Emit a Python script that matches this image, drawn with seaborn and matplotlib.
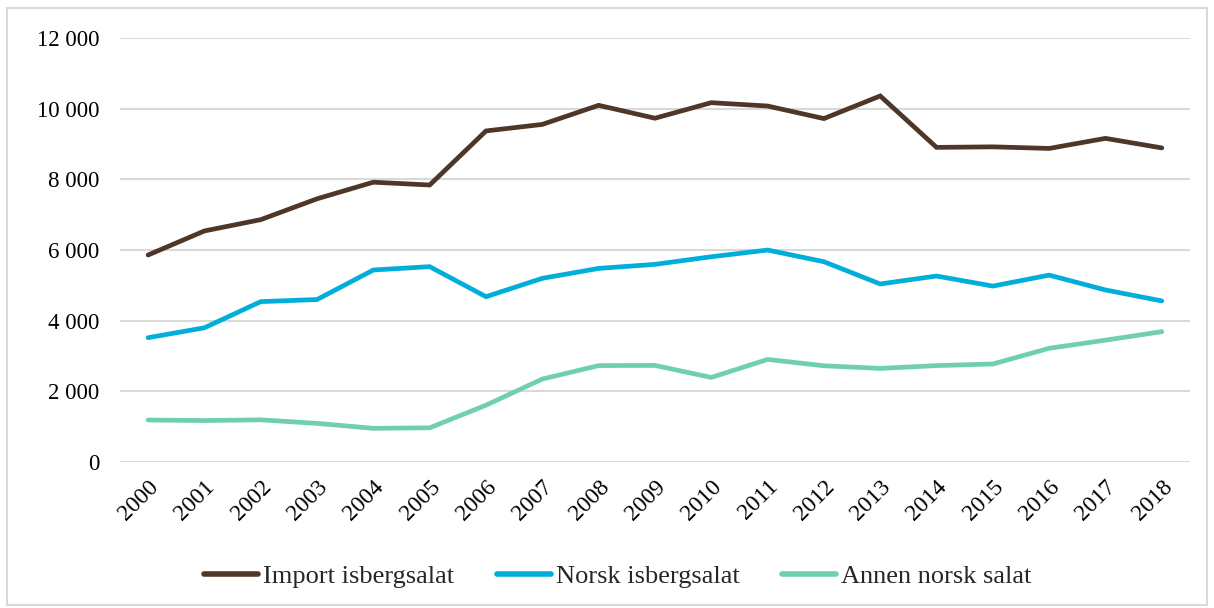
import numpy as np
import pandas as pd
import seaborn as sns
import matplotlib.pyplot as plt
from matplotlib.patches import Rectangle
from matplotlib.ticker import FuncFormatter

sns.set_style("white")
plt.rcParams["font.family"] = ["Liberation Serif", "DejaVu Serif"]

# Data
years = [str(y) for y in range(2000, 2019)]
import_isberg = [5860, 6540, 6860, 7450, 7920, 7840, 9370, 9555, 10095, 9730,
                 10170, 10075, 9720, 10360, 8905, 8920, 8875, 9160, 8890]
norsk_isberg = [3520, 3800, 4540, 4600, 5435, 5530, 4680, 5200, 5480, 5595,
                5810, 6000, 5670, 5040, 5265, 4980, 5290, 4870, 4560]
annen_norsk = [1190, 1175, 1195, 1095, 955, 970, 1610, 2350, 2730, 2735,
               2395, 2905, 2725, 2650, 2730, 2775, 3220, 3450, 3690]

series_names = ["Import isbergsalat", "Norsk isbergsalat", "Annen norsk salat"]
colors = ["#4E3629", "#00AFD9", "#70CFB1"]

df = pd.DataFrame({
    "År": years * 3,
    "Verdi": import_isberg + norsk_isberg + annen_norsk,
    "Serie": [series_names[0]] * 19 + [series_names[1]] * 19 + [series_names[2]] * 19,
})

fig = plt.figure(figsize=(12.14, 6.08), dpi=100)
ax = fig.add_axes([0.0988, 0.240, 0.8814, 0.6975])

sns.lineplot(data=df, x="År", y="Verdi", hue="Serie", palette=colors,
             linewidth=3.4, sort=False, ax=ax, legend=True)
for line in ax.get_lines():
    line.set_solid_capstyle("round")
    line.set_solid_joinstyle("miter")

ax.set_xlim(-0.5, len(years) - 0.5)
ax.set_ylim(0, 12000)
ax.set_yticks(np.arange(0, 12001, 2000))
ax.yaxis.set_major_formatter(FuncFormatter(lambda v, p: f"{int(v):,}".replace(",", " ")))
ax.grid(axis="y", color="#D9D9D9", linewidth=1.5)
ax.set_axisbelow(True)
for s in ax.spines.values():
    s.set_visible(False)
ax.tick_params(axis="both", length=0, colors="#000000")
ax.tick_params(axis="y", labelsize=16.5, pad=15)
ax.tick_params(axis="x", labelsize=17, pad=10)
plt.setp(ax.get_xticklabels(), rotation=45, ha="right", rotation_mode="anchor")
ax.set_xlabel("")
ax.set_ylabel("")

handles, labels = ax.get_legend_handles_labels()
for h in handles:
    h.set_linewidth(4)
ax.legend(handles, labels, ncol=3, loc="center", bbox_to_anchor=(0.509, 0.052),
          bbox_transform=fig.transFigure, frameon=False, fontsize=19,
          handlelength=2.05, handletextpad=0.2, columnspacing=1.6)

# outer border like the original chart frame
fig.patches.append(Rectangle((0.006, 0.005), 0.988, 0.982, transform=fig.transFigure,
                             fill=False, edgecolor="#D9D9D9", linewidth=1.5))

fig.savefig("out.png", dpi=100)
